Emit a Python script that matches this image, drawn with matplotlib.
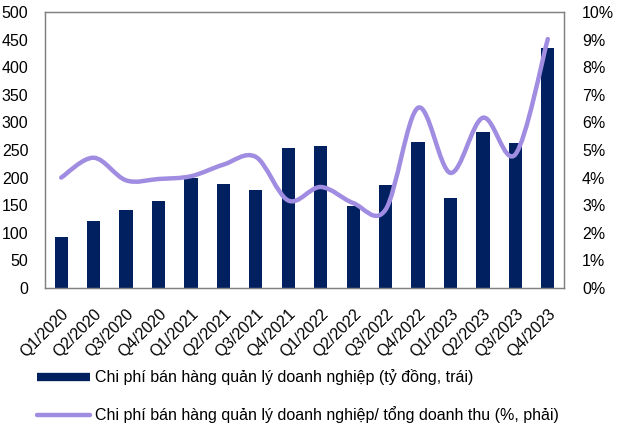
import numpy as np
import matplotlib
matplotlib.use("Agg")
import matplotlib.pyplot as plt
from matplotlib.path import Path
from matplotlib.patches import PathPatch
from matplotlib.lines import Line2D
from matplotlib.ticker import FuncFormatter


# =========================
# Data
# =========================
quarters = ["Q1/2020", "Q2/2020", "Q3/2020", "Q4/2020",
            "Q1/2021", "Q2/2021", "Q3/2021", "Q4/2021",
            "Q1/2022", "Q2/2022", "Q3/2022", "Q4/2022",
            "Q1/2023", "Q2/2023", "Q3/2023", "Q4/2023"]
chi_phi = [92, 121, 142, 158, 200, 189, 177, 253,
           257, 149, 187, 264, 163, 282, 262, 435]          # ty dong, trai
ty_le = [4.0, 4.72, 3.9, 3.95, 4.05, 4.47, 4.75, 3.17,
         3.66, 3.08, 2.84, 6.53, 4.17, 6.17, 4.84, 9.02]    # %, phai

label_bar = "Chi phí bán hàng quản lý doanh nghiệp (tỷ đồng, trái)"
label_line = "Chi phí bán hàng quản lý doanh nghiệp/ tổng doanh thu (%, phải)"

BAR_COLOR = "#002060"
LINE_COLOR = "#A08CE0"
FRAME_COLOR = "#808080"
FS = 11.5

plt.rcParams["font.family"] = ["Liberation Sans", "DejaVu Sans"]
plt.rcParams["font.size"] = FS


def smooth_path(xs, ys):
    """Catmull-Rom style bezier path through the points (like Excel smoothed line)."""
    pts = np.column_stack([xs, ys]).astype(float)
    n = len(pts)
    verts = [pts[0]]
    codes = [Path.MOVETO]
    for i in range(n - 1):
        p0 = pts[i - 1] if i > 0 else pts[i]
        p1 = pts[i]
        p2 = pts[i + 1]
        p3 = pts[i + 2] if i + 2 < n else pts[i + 1]
        c1 = p1 + (p2 - p0) / 6.0
        c2 = p2 - (p3 - p1) / 6.0
        verts += [c1, c2, p2]
        codes += [Path.CURVE4] * 3
    return Path(verts, codes)


fig = plt.figure(figsize=(6.2, 4.26), dpi=100)
ax = fig.add_axes([45 / 620, 1 - 288 / 426, 519 / 620, 276 / 426])
ax2 = ax.twinx()

x = np.arange(len(quarters))
ax.bar(x, chi_phi, width=0.41, color=BAR_COLOR, zorder=2)
ax.set_xlim(-0.5, len(quarters) - 0.5)
ax.set_ylim(0, 500)
ax.set_yticks(np.arange(0, 501, 50))
ax.set_xticks(x)
ax.set_xticklabels(quarters, rotation=45, ha="right", rotation_mode="anchor")
ax.tick_params(axis="y", length=0, labelsize=FS, pad=12)
ax.tick_params(axis="x", length=0, labelsize=FS, pad=13)

ax2.set_ylim(0, 10)
ax2.set_yticks(np.arange(0, 11, 1))
ax2.yaxis.set_major_formatter(FuncFormatter(lambda v, p: f"{int(v)}%"))
ax2.tick_params(axis="y", length=0, labelsize=FS, pad=13)
ax2.add_patch(PathPatch(smooth_path(x, ty_le), facecolor="none",
                        edgecolor=LINE_COLOR, lw=3.2, capstyle="round",
                        joinstyle="round", zorder=3))

for a in (ax, ax2):
    for s in a.spines.values():
        s.set_color(FRAME_COLOR)
        s.set_linewidth(0.9)

handles = [Line2D([], [], color=BAR_COLOR, lw=6, solid_capstyle="butt"),
           Line2D([], [], color=LINE_COLOR, lw=3.2, solid_capstyle="round")]
fig.legend(handles, [label_bar, label_line], loc="upper left",
           bbox_to_anchor=(31 / 620, 1 - 363 / 426), frameon=False,
           fontsize=FS, handlelength=3.3, handletextpad=0.3,
           labelspacing=1.3, borderaxespad=0)

fig.savefig("out.png", dpi=100)
